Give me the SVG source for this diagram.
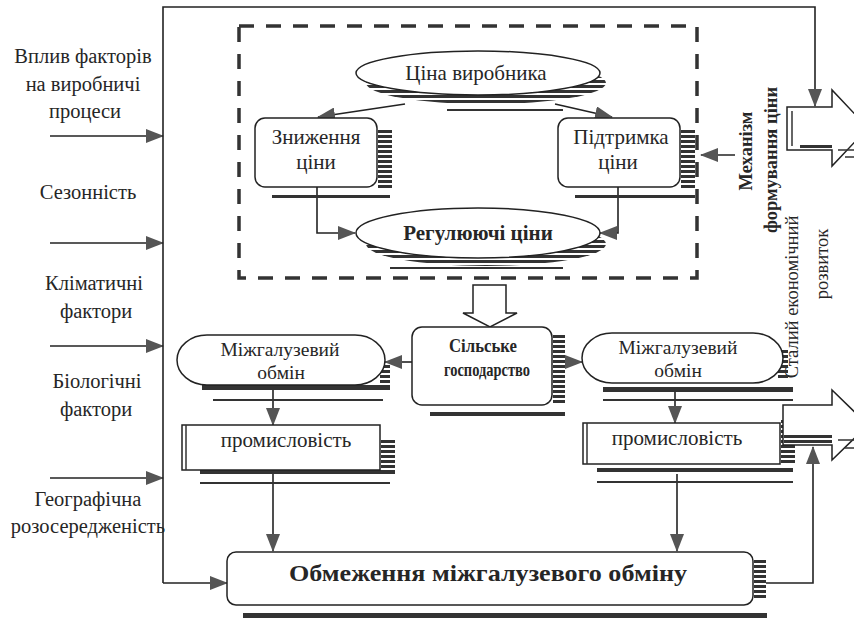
<svg xmlns="http://www.w3.org/2000/svg" width="854" height="618" viewBox="0 0 854 618" font-family="'Liberation Serif','Times New Roman',serif">
<defs>
<style>
text{font-family:"Liberation Serif","Times New Roman",serif;fill:#262626;}
.t{font-size:21px;text-anchor:middle;}
.m{font-size:19.5px;text-anchor:middle;}
.lbl{font-size:20.5px;text-anchor:middle;}
.r{font-size:18.5px;text-anchor:middle;}
.b{font-weight:bold;}
.box{fill:#fff;stroke:#222;stroke-width:1.5;}
.ln{fill:none;stroke:#222;stroke-width:1.6;}
.sh{fill:url(#hatch);}
.bar{fill:#333;}
.thin{fill:none;stroke:#333;stroke-width:1.5;}
.dash{fill:none;stroke:#333;stroke-width:3.5;stroke-dasharray:15 12;}
</style>
<pattern id="hatch" width="8" height="5" patternUnits="userSpaceOnUse"><rect width="8" height="3" fill="#333"/></pattern>
<marker id="ah" viewBox="0 0 18 14" refX="17" refY="7" markerWidth="18" markerHeight="14" markerUnits="userSpaceOnUse" orient="auto"><path d="M0,0 L18,7 L0,14 z" fill="#555"/></marker>
</defs>
<rect width="854" height="618" fill="#fff"/>

<g id="connectors">
<path class="ln" d="M50,136 H163" marker-end="url(#ah)"/>
<path class="ln" d="M50,243 H163" marker-end="url(#ah)"/>
<path class="ln" d="M50,346 H163" marker-end="url(#ah)"/>
<path class="ln" d="M50,478 H163" marker-end="url(#ah)"/>
<path class="ln" d="M163,583 V7 H815 V106" marker-end="url(#ah)"/>
<path class="ln" d="M163,583 H227" marker-end="url(#ah)"/>
<path class="ln" d="M766,583 H813 V447" marker-end="url(#ah)"/>
<path class="ln" d="M405,104 L318,117" marker-end="url(#ah)"/>
<path class="ln" d="M555,104 L612,117" marker-end="url(#ah)"/>
<path class="ln" d="M317,187 V233 H355" marker-end="url(#ah)"/>
<path class="ln" d="M618,187 V233 H600" marker-end="url(#ah)"/>
<path class="ln" d="M735,155 H701" marker-end="url(#ah)"/>
<path class="ln" d="M412,362 H385" marker-end="url(#ah)"/>
<path class="ln" d="M565,362 H582" marker-end="url(#ah)"/>
<path class="ln" d="M273,388 V425" marker-end="url(#ah)"/>
<path class="ln" d="M675,388 V423" marker-end="url(#ah)"/>
<path class="ln" d="M273,474 V551" marker-end="url(#ah)"/>
<path class="ln" d="M677,474 V551" marker-end="url(#ah)"/>
</g>

<g id="inputs">
<text class="lbl" x="83" y="63">Вплив факторів</text>
<text class="lbl" x="83" y="91">на виробничі</text>
<text class="lbl" x="85" y="118">процеси</text>
<text class="lbl" x="88" y="199">Сезонність</text>
<text class="lbl" x="94" y="290">Кліматичні</text>
<text class="lbl" x="96" y="318">фактори</text>
<text class="lbl" x="97" y="388">Біологічні</text>
<text class="lbl" x="96" y="416">фактори</text>
<text class="lbl" x="88" y="506">Географічна</text>
<text class="lbl" x="88" y="533">розосередженість</text>
</g>

<g id="price-mechanism">
<rect class="dash" x="239" y="26" width="458" height="252"/>
</g>

<g id="producer-price">
<ellipse class="sh" cx="486" cy="83" rx="120" ry="21"/>
<rect class="bar" x="447" y="109" width="116" height="2"/>
<ellipse class="box" cx="478" cy="73" rx="122" ry="22"/>
<text class="t" x="476" y="80">Ціна виробника</text>
</g>

<g id="price-reduction">
<rect class="sh" x="378" y="128" width="14" height="62"/>
<rect class="bar" x="272" y="195" width="118" height="3"/>
<rect class="box" x="255" y="118" width="122" height="69" rx="10"/>
<text class="t" x="316" y="144">Зниження</text>
<text class="t" x="316" y="169">ціни</text>
</g>

<g id="price-support">
<rect class="sh" x="681" y="128" width="14" height="62"/>
<rect class="bar" x="575" y="195" width="120" height="3"/>
<rect class="box" x="558" y="118" width="122" height="69" rx="10"/>
<text class="t" x="621" y="144">Підтримка</text>
<text class="t" x="618" y="169">ціни</text>
</g>

<g id="regulating-prices">
<ellipse class="sh" cx="486" cy="244" rx="120" ry="22"/>
<rect class="bar" x="390" y="267" width="173" height="2"/>
<ellipse class="box" cx="478" cy="233" rx="122" ry="25"/>
<text class="t b" x="478" y="240">Регулюючі ціни</text>
</g>

<g id="mechanism-label">
<text class="r b" transform="translate(752,151) rotate(-90)">Механізм</text>
<text class="r b" transform="translate(777,160) rotate(-90)">формування ціни</text>
</g>

<g id="sustainable-development">
<text class="r" transform="translate(798,297) rotate(-90)">Сталий економічний</text>
<text class="r" transform="translate(828,264) rotate(-90)">розвиток</text>
</g>

<g id="down-arrow">
<polygon class="box" points="473,285 506,285 506,313 517,313 490,327 463,313 473,313"/>
</g>

<g id="agriculture">
<rect class="sh" x="553" y="335" width="12" height="70"/>
<rect class="bar" x="430" y="412" width="135" height="4"/>
<rect class="box" x="412" y="327" width="140" height="78" rx="10"/>
<text class="b" x="483" y="352" font-size="19" text-anchor="middle" textLength="68" lengthAdjust="spacingAndGlyphs">Сільське</text>
<text class="b" x="487" y="376" font-size="19" text-anchor="middle" textLength="86" lengthAdjust="spacingAndGlyphs">господарство</text>
</g>

<g id="exchange-left">
<rect class="bar" x="202" y="385" width="188" height="5"/>
<rect class="bar" x="213" y="399" width="170" height="2"/>
<rect class="sh" x="380" y="365" width="10" height="20"/>
<rect class="box" x="177" y="335" width="208" height="50" rx="30" ry="25"/>
<text class="m" x="280" y="356">Міжгалузевий</text>
<text class="m" x="281" y="379">обмін</text>
</g>

<g id="exchange-right">
<rect class="bar" x="603" y="387" width="190" height="5"/>
<rect class="bar" x="603" y="399" width="190" height="2"/>
<rect class="sh" x="778" y="350" width="10" height="30"/>
<rect class="box" x="582" y="333" width="201" height="50" rx="30" ry="25"/>
<text class="m" x="678" y="354">Міжгалузевий</text>
<text class="m" x="678" y="377">обмін</text>
</g>

<g id="industry-left">
<rect class="sh" x="381" y="440" width="14" height="30"/>
<rect class="bar" x="200" y="470" width="195" height="4"/>
<rect class="bar" x="200" y="482" width="190" height="2"/>
<rect class="box" x="182" y="425" width="198" height="45"/>
<line class="thin" x1="186" y1="425" x2="186" y2="470"/>
<text class="t" x="286" y="447">промисловість</text>
</g>

<g id="industry-right">
<rect class="sh" x="781" y="420" width="14" height="45"/>
<rect class="bar" x="597" y="468" width="196" height="4"/>
<rect class="bar" x="597" y="481" width="196" height="2"/>
<rect class="box" x="583" y="423" width="197" height="41"/>
<line class="thin" x1="587" y1="423" x2="587" y2="464"/>
<text class="t" x="677" y="445">промисловість</text>
</g>

<g id="big-arrow-top">
<polygon class="box" points="787,107 832,107 832,90 868,128 832,166 832,150 787,150"/>
<line class="thin" x1="792" y1="111" x2="792" y2="146" stroke-width="3"/>
<rect class="bar" x="800" y="145" width="32" height="3"/>
<path class="thin" d="M838,150 H854 M845,157 H854"/>
</g>

<g id="big-arrow-bottom">
<polygon class="box" points="783,405 832,405 832,390 868,425 832,460 832,445 783,445"/>
<rect class="sh" x="784" y="433" width="48" height="11"/>
<path class="thin" d="M838,440 H854 M845,448 H854"/>
</g>

<g id="restriction">
<rect class="sh" x="754" y="558" width="12" height="42"/>
<rect class="bar" x="243" y="613" width="524" height="5"/>
<rect class="box" x="227" y="552" width="526" height="53" rx="9"/>
<text class="b" x="488" y="581" font-size="24" text-anchor="middle" textLength="398" lengthAdjust="spacingAndGlyphs">Обмеження міжгалузевого обміну</text>
</g>
</svg>
